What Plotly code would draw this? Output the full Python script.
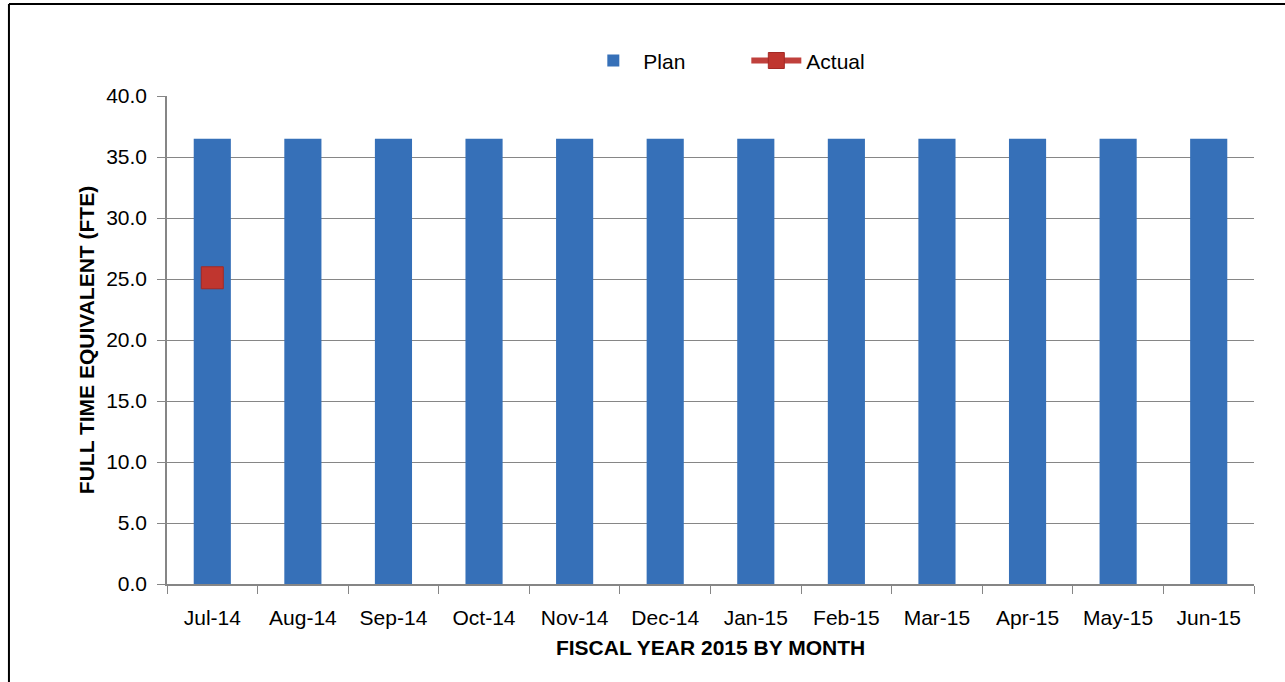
import plotly.graph_objects as go

months = ["Jul-14", "Aug-14", "Sep-14", "Oct-14", "Nov-14", "Dec-14",
          "Jan-15", "Feb-15", "Mar-15", "Apr-15", "May-15", "Jun-15"]
plan = [36.5] * 12
actual = [25.1, None, None, None, None, None, None, None, None, None, None, None]
y_ticks = [0, 5, 10, 15, 20, 25, 30, 35, 40]

FONT = "Liberation Sans"
GRID = "#868686"

fig = go.Figure()
fig.add_trace(go.Bar(
    x=months, y=plan, name="Plan",
    marker=dict(color="#3670b8", line=dict(width=0)),
    width=0.41,
))
fig.add_trace(go.Scatter(
    x=months, y=actual, name="Actual", mode="lines+markers",
    line=dict(color="#c0403c", width=6),
    marker=dict(symbol="square", size=22, color="#c0362f",
                line=dict(color="#a32a25", width=1)),
))

# outer frame (top and left edges only, as in the source)
fig.add_shape(type="line", xref="paper", yref="paper",
              x0=-0.1454, x1=1.05, y0=1.1885, y1=1.1885,
              line=dict(color="black", width=2))
fig.add_shape(type="line", xref="paper", yref="paper",
              x0=-0.1454, x1=-0.1454, y0=1.1885, y1=-0.25,
              line=dict(color="black", width=2))

fig.update_layout(
    width=1285, height=682,
    margin=dict(l=167, r=31, t=96, b=98),
    paper_bgcolor="white", plot_bgcolor="white",
    font=dict(family=FONT, size=21, color="black"),
    showlegend=True,
    legend=dict(orientation="h", x=0.383, xanchor="left", y=1.072, yanchor="middle",
                font=dict(size=21), itemwidth=50, traceorder="normal",
                entrywidth=98, entrywidthmode="pixels"),
    bargap=0.59,
)
fig.update_xaxes(
    type="category", range=[-0.5, len(months) - 0.5],
    showline=True, linecolor=GRID, linewidth=1.5,
    ticks="outside", tickson="boundaries", ticklen=8, tickcolor=GRID,
    ticklabelstandoff=14,
    showgrid=False,
    title=dict(text="<b>FISCAL YEAR 2015 BY MONTH</b>", font=dict(size=21), standoff=12),
)
fig.update_yaxes(
    range=[0, 40], tickvals=y_ticks, tickformat=".1f",
    showline=True, linecolor=GRID, linewidth=1.5,
    ticks="outside", ticklen=8, tickcolor=GRID,
    ticklabelstandoff=6,
    showgrid=True, gridcolor=GRID, gridwidth=1.2,
    zeroline=False,
    title=dict(text="<b>FULL TIME EQUIVALENT (FTE)</b>", font=dict(size=21), standoff=6),
)

fig.write_html("out.html", config={"displayModeBar": False},
               post_script="document.body.style.margin='0px';")
